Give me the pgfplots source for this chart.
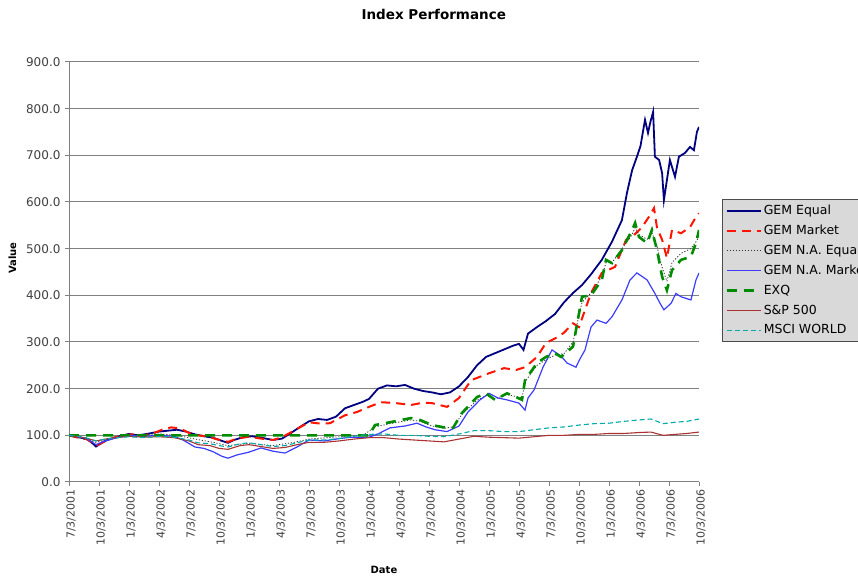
\documentclass[border=0pt]{standalone}
\usepackage{pgfplots}
\pgfplotsset{compat=1.18}
\usepackage{fontspec}
\setmainfont{DejaVu Sans}
\definecolor{navyline}{RGB}{0,0,128}
\definecolor{redline}{RGB}{255,20,0}
\definecolor{blueline}{RGB}{60,60,255}
\definecolor{greenline}{RGB}{0,140,0}
\definecolor{brownline}{RGB}{170,50,50}
\definecolor{tealline}{RGB}{0,170,170}
\definecolor{gridline}{RGB}{128,128,128}
\begin{document}
\begin{tikzpicture}
\begin{axis}[
  name=ax,
  width=630pt, height=420pt, scale only axis,
  xmin=0, xmax=21, ymin=0, ymax=900,
  xtick={0,...,21},
  xticklabels={7/3/2001,10/3/2001,1/3/2002,4/3/2002,7/3/2002,10/3/2002,1/3/2003,4/3/2003,7/3/2003,10/3/2003,1/3/2004,4/3/2004,7/3/2004,10/3/2004,1/3/2005,4/3/2005,7/3/2005,10/3/2005,1/3/2006,4/3/2006,7/3/2006,10/3/2006},
  ytick={0,100,...,900},
  /pgf/number format/assume math mode=true,
  y tick label style={/pgf/number format/fixed, /pgf/number format/fixed zerofill, /pgf/number format/precision=1, font=\fontsize{12}{14}\selectfont, text=black!75, xshift=-1pt},
  x tick label style={font=\fontsize{11}{13}\selectfont, text=black!75, rotate=90, anchor=east, yshift=-2pt},
  ymajorgrids,
  grid style={gridline, line width=1pt},
  axis x line*=bottom, axis y line*=left,
  axis line style={gridline, line width=1pt, -},
  tick style={gridline, line width=1pt},
  tick align=outside, major tick length=4pt,
  title={Index Performance},
  every axis title shift=0pt,
  title style={at={(0.579,1.112)}, anchor=center, yshift=0pt, font=\bfseries\fontsize{13.5}{15}\selectfont},
  xlabel={Date},
  xlabel style={at={(0.50,-0.209)}, anchor=center, font=\bfseries\fontsize{10}{12}\selectfont},
  ylabel={Value},
  ylabel style={at={(-0.09,0.533)}, anchor=center, rotate=0, font=\bfseries\fontsize{10}{12}\selectfont},
  legend style={at={(1.0365,0.674)}, anchor=north west, fill=gray!30, draw=black!70,
     font=\fontsize{12.5}{14}\selectfont, row sep=5pt, inner xsep=3pt, inner ysep=4pt},
  legend cell align=left,
  legend image code/.code={\draw[#1] (0pt,0pt) -- (34pt,0pt);},
]
\addplot[color=navyline, line width=1.8pt] coordinates {
(0,100)(0.2,97)(0.4,95)(0.6,92)(0.8,82)(0.9,76)(1.0,80)(1.2,88)(1.5,95)(1.8,100)(2.0,103)(2.3,100)(2.6,103)(3.0,108)(3.3,110)(3.6,112)(3.9,108)(4.2,102)(4.5,98)(4.8,95)(5.1,88)(5.3,84)(5.5,90)(5.8,96)(6.1,98)(6.4,95)(6.8,90)(7.1,93)(7.4,105)(7.7,118)(8.0,130)(8.3,135)(8.6,133)(8.9,140)(9.2,158)(9.5,165)(9.8,172)(10.0,178)(10.3,200)(10.6,207)(10.9,205)(11.2,208)(11.5,200)(11.8,195)(12.1,192)(12.4,188)(12.7,192)(13.0,205)(13.3,225)(13.6,250)(13.9,268)(14.2,276)(14.5,284)(14.8,292)(15.0,296)(15.15,283)(15.3,318)(15.6,332)(15.9,345)(16.2,360)(16.5,385)(16.8,405)(17.1,422)(17.4,445)(17.76,476)(18.1,515)(18.43,561)(18.6,620)(18.77,668)(18.93,697)(19.05,720)(19.2,776)(19.3,748)(19.37,769)(19.47,793)(19.53,697)(19.67,690)(19.77,662)(19.83,604)(19.93,647)(20.03,690)(20.2,654)(20.33,697)(20.53,705)(20.7,718)(20.83,711)(20.93,750)(21.0,761)
};
\addlegendentry{GEM Equal}
\addplot[color=redline, line width=2pt, dash pattern=on 9pt off 6pt] coordinates {
(0,100)(0.3,95)(0.6,92)(0.9,78)(1.2,87)(1.5,95)(1.8,100)(2.1,102)(2.5,100)(2.8,104)(3.1,112)(3.4,117)(3.7,115)(4.0,105)(4.3,100)(4.6,98)(4.9,92)(5.3,86)(5.6,93)(6.0,97)(6.4,93)(6.8,90)(7.1,96)(7.5,110)(8.0,128)(8.4,125)(8.7,126)(9.2,143)(9.6,150)(10.0,161)(10.4,171)(10.9,169)(11.4,165)(11.8,170)(12.1,169)(12.6,161)(13.0,180)(13.4,218)(14.0,233)(14.5,244)(14.9,240)(15.2,246)(15.6,268)(15.9,298)(16.3,311)(16.5,320)(16.8,340)(17.0,332)(17.4,405)(17.76,448)(18.2,461)(18.57,519)(18.77,525)(19.1,546)(19.33,568)(19.5,587)(19.6,545)(19.77,519)(19.93,480)(20.1,540)(20.4,533)(20.7,546)(20.9,568)(21.0,576)
};
\addlegendentry{GEM Market}
\addplot[color=black!80, line width=0.8pt, dash pattern=on 1.2pt off 1.8pt] coordinates {
(0,100)(0.9,85)(1.5,95)(2,100)(3,103)(3.6,100)(4.2,92)(4.8,85)(5.3,78)(6,83)(6.8,78)(7.5,85)(8,92)(9,97)(9.8,100)(10.2,118)(10.7,125)(11.4,133)(11.7,130)(12.1,120)(12.5,115)(12.8,118)(13.1,145)(13.6,175)(13.9,185)(14.2,178)(14.6,188)(14.9,183)(15.1,180)(15.2,215)(15.6,250)(15.9,262)(16.2,272)(16.5,275)(16.8,300)(17.1,385)(17.4,405)(17.76,440)(17.9,470)(18.1,470)(18.43,500)(18.77,530)(18.87,545)(19.0,530)(19.27,520)(19.43,535)(19.6,505)(19.77,460)(19.93,430)(20.1,470)(20.4,490)(20.73,500)(20.9,515)(21.0,525)
};
\addlegendentry{GEM N.A. Equal}
\addplot[color=blueline, line width=1.2pt] coordinates {
(0,100)(0.3,97)(0.6,93)(0.9,80)(1.2,88)(1.6,95)(2.0,100)(2.5,98)(3.0,100)(3.5,98)(3.8,90)(4.2,75)(4.5,72)(4.8,65)(5.1,55)(5.3,51)(5.6,58)(6.0,64)(6.4,73)(6.8,66)(7.2,62)(7.6,75)(8.0,90)(8.5,88)(9.0,93)(9.4,96)(10.0,96)(10.3,103)(10.7,116)(11.2,120)(11.6,126)(11.9,118)(12.2,112)(12.6,108)(13.0,120)(13.3,150)(13.7,176)(14.0,190)(14.3,180)(14.6,176)(15.0,169)(15.2,154)(15.3,180)(15.5,197)(15.8,246)(16.1,283)(16.4,270)(16.6,255)(16.9,246)(17.0,260)(17.2,283)(17.4,332)(17.6,347)(17.9,340)(18.1,354)(18.43,390)(18.7,433)(18.93,448)(19.27,433)(19.53,404)(19.7,383)(19.83,369)(20.07,383)(20.23,404)(20.4,397)(20.73,390)(20.9,433)(21.0,448)
};
\addlegendentry{GEM N.A. Market}
\addplot[color=greenline, line width=2.6pt, dash pattern=on 10pt off 7pt] coordinates {
(0,100)(9.8,100)(10.0,100)(10.2,122)(10.7,128)(11.4,137)(11.7,133)(12.1,122)(12.5,117)(12.8,116)(13.1,148)(13.6,182)(13.9,190)(14.2,176)(14.6,190)(14.9,182)(15.1,176)(15.2,218)(15.6,255)(15.9,268)(16.2,276)(16.4,268)(16.8,290)(17.1,397)(17.4,400)(17.76,433)(17.9,476)(18.1,469)(18.43,497)(18.77,540)(18.87,555)(19.0,525)(19.27,512)(19.43,540)(19.6,497)(19.77,440)(19.93,411)(20.1,454)(20.4,476)(20.73,483)(20.9,512)(21.0,540)
};
\addlegendentry{EXQ}
\addplot[color=brownline, line width=1.1pt] coordinates {
(0,100)(0.5,95)(0.9,88)(1.3,93)(2,98)(2.5,96)(3,97)(3.5,95)(4,88)(4.3,80)(4.7,78)(5.0,72)(5.3,70)(5.7,78)(6.0,80)(6.4,76)(6.8,72)(7.2,74)(7.6,80)(8,85)(8.5,85)(9,88)(9.5,92)(10,95)(10.5,95)(11,92)(11.5,90)(12,88)(12.5,86)(13,92)(13.5,98)(14,96)(14.5,95)(15,94)(15.5,97)(16,100)(16.5,100)(17,102)(17.5,102)(18,104)(18.5,104)(19,106)(19.4,107)(19.8,100)(20.2,102)(20.6,104)(21,107)
};
\addlegendentry{S\&P 500}
\addplot[color=tealline, line width=1.1pt, dash pattern=on 5pt off 3pt] coordinates {
(0,100)(0.5,96)(0.9,88)(1.3,93)(2,97)(2.5,95)(3,98)(3.5,96)(4,90)(4.3,84)(4.7,82)(5.0,78)(5.3,75)(5.7,82)(6.0,84)(6.4,80)(6.8,76)(7.2,78)(7.6,84)(8,90)(8.5,90)(9,93)(9.5,98)(10,102)(10.5,103)(11,100)(11.5,100)(12,98)(12.5,97)(13,103)(13.5,110)(14,110)(14.5,108)(15,108)(15.5,112)(16,116)(16.5,118)(17,122)(17.5,125)(18,126)(18.5,130)(19,133)(19.4,135)(19.8,125)(20.2,128)(20.6,130)(21,135)
};
\addlegendentry{MSCI WORLD}
\end{axis}
\pgfresetboundingbox
\path[use as bounding box] ([shift={(-69pt,-95pt)}]ax.south west) rectangle ([shift={(789pt,482pt)}]ax.south west);
\end{tikzpicture}
\end{document}
